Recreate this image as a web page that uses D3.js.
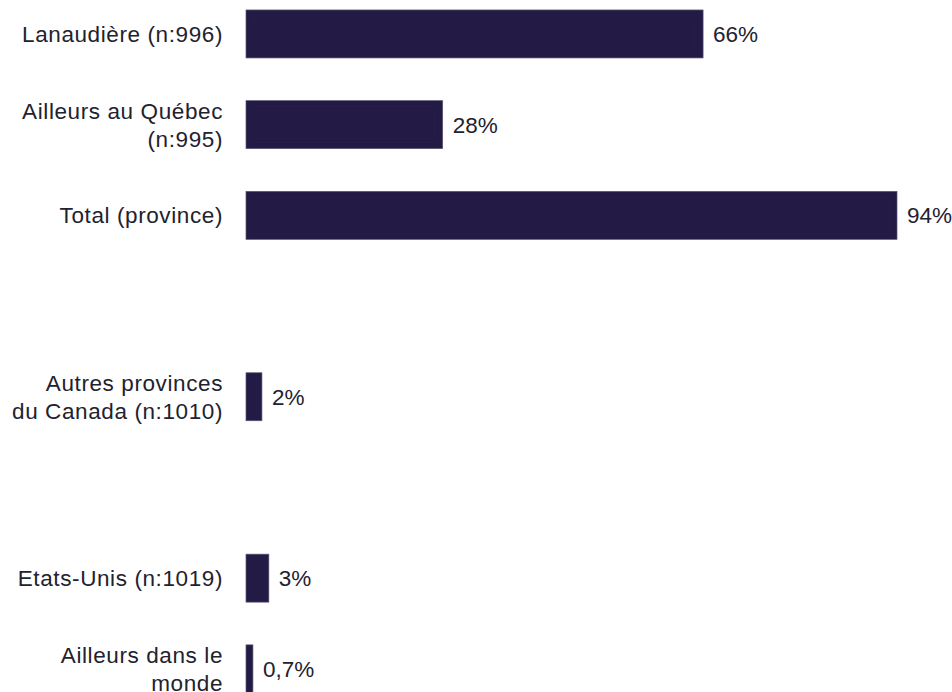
<!DOCTYPE html>
<html><head><meta charset="utf-8">
<script src="https://cdn.jsdelivr.net/npm/d3@7"></script>
<style>body{margin:0;background:#fff}svg{display:block}</style>
</head><body>
<svg id="c" width="952" height="692"></svg>
<script>
const slots = ["lan","aq","tot","gap1","apc","gap2","eu","am"];
const categories = [
  ["Lanaudière (n:996)"],
  ["Ailleurs au Québec", "(n:995)"],
  ["Total (province)"],
  [],
  ["Autres provinces", "du Canada (n:1010)"],
  [],
  ["Etats-Unis (n:1019)"],
  ["Ailleurs dans le", "monde"]
];
const values = [66, 28.4, 94, null, 2.3, null, 3.3, 1.0];
const valueLabels = ["66%", "28%", "94%", "", "2%", "", "3%", "0,7%"];

const svg = d3.select("#c");
const x = d3.scaleLinear().domain([0, 94]).range([246, 897]);
const y = d3.scaleBand().domain(slots).range([-11.4, 714.2]).paddingInner(0.471).paddingOuter(0.2355);

const rows = slots.map((s, i) => ({s, lines: categories[i], v: values[i], lab: valueLabels[i]}));
const g = svg.append("g");
const bars = rows.filter(d => d.v != null);

g.selectAll("rect.bar").data(bars).join("rect").attr("class","bar")
  .attr("x", x(0)).attr("y", d => y(d.s))
  .attr("width", d => x(d.v) - x(0)).attr("height", y.bandwidth())
  .attr("fill", "#231a45").attr("stroke", "#5a5872").attr("stroke-width", 0.7);
g.selectAll("rect.inner").data(bars.filter(d => x(d.v)-x(0) > 30)).join("rect").attr("class","inner")
  .attr("x", x(0)+8).attr("y", d => y(d.s)+6)
  .attr("width", d => x(d.v) - x(0) - 16).attr("height", y.bandwidth()-12)
  .attr("fill", "none").attr("stroke", "#2c2550").attr("stroke-width", 0.8).attr("stroke-opacity", 0.6);

const font = "'Liberation Sans', Arial, Helvetica, sans-serif";
g.selectAll("text.val").data(bars).join("text").attr("class","val")
  .attr("x", d => x(d.v) + 10).attr("y", d => y(d.s) + y.bandwidth()/2)
  .attr("dy", "0.35em").attr("font-family", font).attr("font-size", 22.5)
  .attr("fill", "#22222e").text(d => d.lab);

const lh = 28;
rows.filter(d => d.lines.length).forEach(d => {
  const cy = y(d.s) + y.bandwidth()/2;
  const n = d.lines.length;
  const t = g.append("text").attr("text-anchor","end").attr("font-family", font)
    .attr("font-size", 22.5).attr("letter-spacing", "0.6px").attr("fill", "#22222e");
  d.lines.forEach((line, i) => {
    t.append("tspan").attr("x", 223).attr("y", cy + (i - (n-1)/2) * lh).attr("dy","0.35em").text(line);
  });
});
</script>
</body></html>
